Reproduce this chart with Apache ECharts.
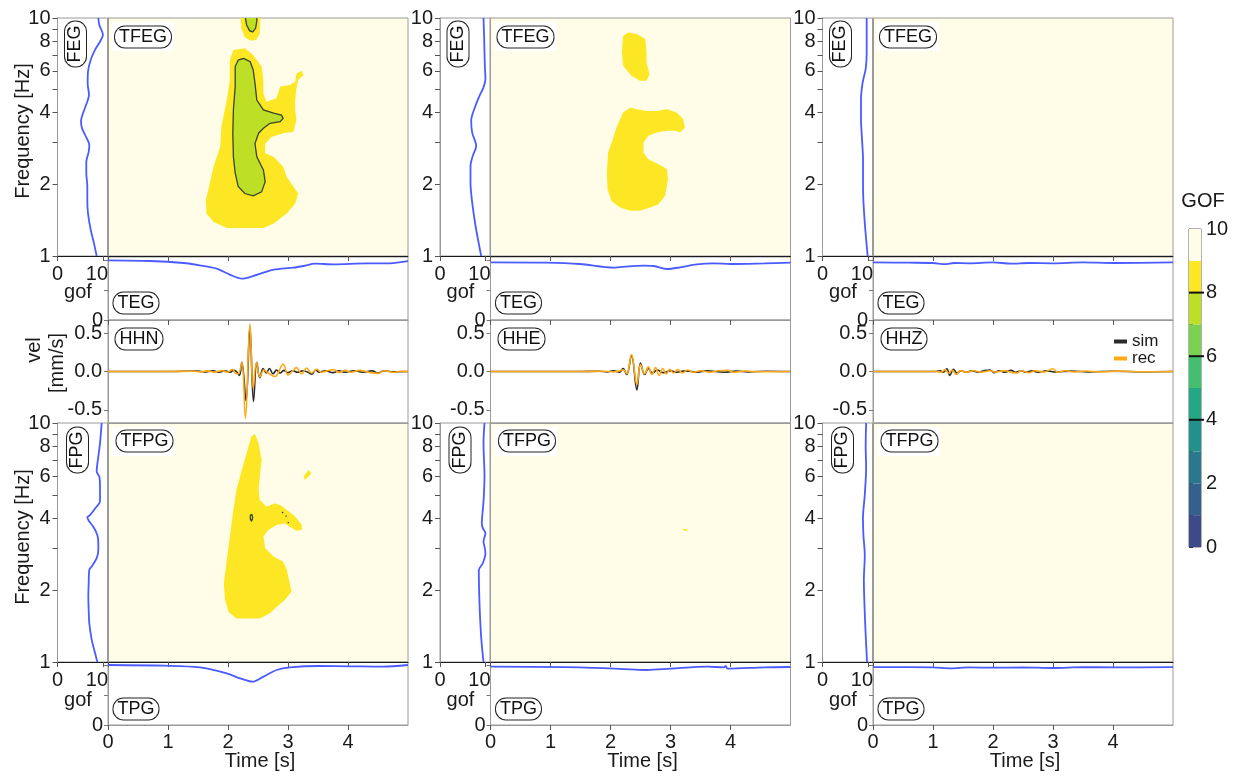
<!DOCTYPE html>
<html>
<head>
<meta charset="utf-8">
<script src="https://cdn.jsdelivr.net/npm/echarts@6/dist/echarts.min.js"></script>
<style>
  html, body { margin: 0; padding: 0; background: #ffffff; }
  #chart { width: 1234px; height: 776px; }
</style>
</head>
<body>
<div id="chart"></div>
<script>
// ---------- shared scales ----------
const components = ['HHN', 'HHE', 'HHZ'];
const freqLabelValues = [1, 2, 4, 6, 8, 10];
const freqTickValues = [1, 2, 3, 4, 5, 6, 7, 8, 9, 10];
const timeLabelValues = [0, 1, 2, 3, 4];
const velTickValues = [-0.5, 0, 0.5];
const gofStripTicks = [0, 5, 10];
const gofSideTicks = [0, 10];
// GOF classes 0-1 ... 9-10
const gofClassColors = ['#3e4989', '#34608d', '#2a788e', '#21918c', '#22a884',
                        '#44bf70', '#7ad151', '#bddf26', '#fde725', '#fffde7'];
const gofClasses = [0, 1, 2, 3, 4, 5, 6, 7, 8, 9];
const gofContourLevels = [4, 6, 8];

// ---------- frequency GOF curves: [frequency Hz, gof] ----------
const feg_HHN = [[1.0, 8.62], [1.13, 8.03], [1.29, 7.30], [1.51, 6.71], [1.72, 6.56], [1.96, 6.56], [2.23, 6.34], [2.49, 6.34], [2.74, 6.86], [2.93, 7.00], [3.17, 6.27], [3.44, 5.39], [3.70, 5.17], [3.98, 5.61], [4.38, 6.42], [4.75, 6.93], [5.31, 6.64], [5.95, 6.71], [6.66, 7.30], [7.34, 8.25], [7.95, 9.35], [8.48, 10.0], [9.35, 9.20], [10.0, 8.98]];
const fpg_HHN = [[1.0, 8.76], [1.12, 8.10], [1.24, 7.52], [1.45, 7.00], [1.65, 6.86], [1.88, 6.78], [2.13, 6.86], [2.43, 7.00], [2.51, 7.52], [2.72, 8.62], [2.94, 8.98], [3.14, 8.98], [3.40, 8.76], [3.68, 7.88], [3.87, 7.00], [4.03, 6.56], [4.12, 7.15], [4.47, 8.62], [4.69, 9.35], [5.42, 9.35], [5.96, 9.21], [6.26, 8.62], [7.23, 8.98], [8.22, 9.35], [10.0, 9.72]];
const feg_HHE = [[1.0, 9.06], [1.34, 7.81], [1.68, 7.08], [2.03, 6.71], [2.39, 6.71], [2.64, 7.22], [2.90, 7.96], [3.30, 7.08], [3.70, 6.86], [4.28, 7.81], [4.71, 8.69], [5.11, 9.57], [5.54, 10.0], [6.30, 9.86], [8.16, 9.72], [10.0, 9.57]];
const fpg_HHE = [[1.0, 9.57], [1.27, 9.06], [1.76, 8.69], [2.42, 8.54], [2.59, 9.42], [2.85, 10.0], [3.04, 9.79], [3.19, 9.57], [3.46, 10.0], [3.63, 9.42], [3.81, 9.20], [4.33, 9.42], [4.92, 9.64], [5.97, 9.79], [8.24, 9.57], [10.0, 9.79]];
const feg_HHZ = [[1.0, 9.94], [1.34, 9.35], [1.74, 8.98], [2.11, 8.91], [2.56, 8.91], [3.10, 8.69], [3.76, 8.47], [4.57, 8.47], [5.37, 8.84], [6.11, 9.50], [7.17, 9.72], [10.0, 9.72]];
const fpg_HHZ = [[1.0, 9.80], [1.3, 9.50], [1.7, 9.25], [2.2, 9.10], [2.8, 9.30], [3.4, 9.00], [4.0, 8.90], [5.0, 9.30], [6.5, 9.60], [8.0, 9.50], [10.0, 9.60]];

// ---------- time GOF curves: [time s, gof] ----------
const teg_HHN = [[0, 9.94], [0.7, 9.83], [1.26, 9.5], [1.53, 9.11], [1.81, 8.56], [2.03, 7.56], [2.23, 6.89], [2.37, 7.17], [2.59, 7.89], [2.76, 8.39], [3.09, 8.72], [3.26, 9.0], [3.45, 9.39], [3.76, 9.28], [4.31, 9.44], [4.64, 9.44], [5.0, 9.83]];
const tpg_HHN = [[0, 10.0], [0.94, 9.89], [1.53, 9.61], [1.98, 8.61], [2.2, 7.78], [2.41, 7.22], [2.59, 8.06], [2.81, 9.17], [3.03, 9.61], [3.53, 9.83], [4.03, 9.78], [4.59, 9.72], [5.0, 10.0]];
const teg_HHE = [[0, 9.61], [0.93, 9.56], [1.49, 9.33], [2.05, 8.72], [2.3, 8.95], [2.55, 9.06], [2.72, 9.0], [2.94, 8.5], [3.16, 8.78], [3.44, 9.28], [3.72, 9.44], [4.0, 9.33], [4.56, 9.44], [5.0, 9.56]];
const tpg_HHE = [[0, 9.72], [1.49, 9.61], [2.33, 9.28], [2.6, 9.17], [3.0, 9.39], [3.61, 9.72], [3.89, 9.61], [3.92, 9.83], [3.95, 9.39], [4.56, 9.61], [5.0, 9.67]];
const teg_HHZ = [[0, 9.6], [0.6, 9.55], [1.0, 9.5], [1.2, 9.3], [1.35, 9.5], [1.6, 9.45], [2.0, 9.6], [2.3, 9.4], [2.6, 9.5], [3.0, 9.45], [3.5, 9.6], [4.0, 9.5], [5.0, 9.6]];
const tpg_HHZ = [[0, 9.65], [1.0, 9.6], [1.3, 9.45], [1.6, 9.6], [2.0, 9.55], [2.5, 9.6], [3.0, 9.5], [3.5, 9.65], [4.0, 9.6], [5.0, 9.65]];

// ---------- velocity traces: [time s, mm/s] ----------
const velSim_HHN = [[0, 0], [1.0, 0], [1.5, 0.005], [1.6, -0.005], [1.75, 0.008], [1.85, -0.008], [1.95, 0.01], [2.03, -0.01], [2.09, 0.015], [2.14, 0.0], [2.19, -0.05], [2.23, 0.12], [2.30, -0.38], [2.365, 0.58], [2.425, -0.39], [2.48, 0.12], [2.53, -0.08], [2.585, 0.04], [2.64, -0.02], [2.69, 0.04], [2.75, -0.03], [2.81, 0.02], [2.87, -0.02], [2.93, 0.015], [3.0, -0.015], [3.08, 0.01], [3.16, -0.01], [3.25, 0.01], [3.33, -0.01], [3.40, -0.035], [3.46, 0.02], [3.52, -0.01], [3.62, 0.01], [3.75, -0.015], [3.85, 0.01], [3.95, -0.01], [4.1, 0.01], [4.25, -0.01], [4.4, 0.008], [4.5, -0.02], [4.6, 0.01], [4.75, -0.005], [5, 0]];
const velRec_HHN = [[0, 0], [1.0, 0], [1.4, 0.004], [1.55, -0.005], [1.65, 0.008], [1.78, -0.008], [1.9, 0.012], [2.0, -0.01], [2.07, 0.03], [2.12, -0.02], [2.17, -0.03], [2.23, 0.12], [2.29, -0.61], [2.365, 0.62], [2.42, -0.22], [2.475, 0.12], [2.53, -0.07], [2.6, 0.02], [2.67, -0.02], [2.78, -0.065], [2.92, 0.095], [3.0, -0.045], [3.07, 0.0], [3.14, 0.05], [3.23, -0.03], [3.31, 0.045], [3.39, -0.02], [3.48, 0.03], [3.56, -0.01], [3.66, 0.01], [3.76, 0.025], [3.85, -0.015], [3.95, 0.015], [4.05, -0.01], [4.2, 0.015], [4.35, -0.01], [4.5, -0.025], [4.6, 0.01], [4.75, -0.01], [4.9, 0.005], [5, 0]];
const velSim_HHE = [[0, 0], [1.5, 0], [1.8, 0.004], [1.95, -0.005], [2.05, 0.01], [2.15, -0.01], [2.21, 0.04], [2.27, -0.04], [2.35, 0.21], [2.44, -0.24], [2.50, 0.11], [2.57, -0.04], [2.63, 0.04], [2.70, -0.02], [2.78, 0.02], [2.88, -0.015], [3.0, 0.01], [3.1, -0.01], [3.25, 0.008], [3.45, -0.01], [3.6, 0.008], [3.9, -0.01], [4.1, 0.006], [4.3, -0.005], [4.6, 0.004], [5, 0]];
const velRec_HHE = [[0, 0], [1.5, 0], [1.9, 0.004], [2.05, -0.006], [2.15, 0.01], [2.22, 0.02], [2.27, -0.03], [2.35, 0.22], [2.44, -0.17], [2.50, 0.09], [2.57, -0.03], [2.63, 0.06], [2.69, -0.04], [2.75, 0.05], [2.81, -0.05], [2.87, 0.04], [2.93, -0.03], [2.99, 0.03], [3.05, -0.02], [3.12, 0.025], [3.2, -0.02], [3.28, 0.02], [3.38, -0.01], [3.5, 0.01], [3.65, -0.008], [3.8, 0.01], [3.95, 0.015], [4.05, -0.01], [4.25, 0.006], [4.5, -0.004], [5, 0]];
const velSim_HHZ = [[0, 0], [1.05, 0], [1.12, 0.01], [1.17, -0.01], [1.23, 0.035], [1.28, -0.05], [1.34, 0.03], [1.40, -0.02], [1.47, 0.01], [1.55, -0.008], [1.65, 0.008], [1.75, -0.01], [1.85, 0.01], [1.95, 0.02], [2.02, -0.015], [2.1, 0.01], [2.2, -0.01], [2.3, 0.015], [2.38, -0.012], [2.47, 0.01], [2.55, -0.01], [2.65, 0.008], [2.75, -0.008], [2.9, 0.008], [3.05, -0.006], [3.3, 0.005], [3.6, -0.005], [4.0, 0.004], [4.5, -0.003], [5, 0]];
const velRec_HHZ = [[0, 0], [1.05, 0], [1.14, -0.01], [1.20, 0.025], [1.26, -0.02], [1.32, 0.02], [1.39, -0.04], [1.45, 0.012], [1.55, -0.008], [1.68, 0.01], [1.8, -0.008], [1.95, 0.01], [2.05, -0.008], [2.2, 0.012], [2.32, -0.015], [2.40, -0.02], [2.47, 0.01], [2.6, -0.015], [2.7, 0.01], [2.85, -0.006], [3.0, 0.035], [3.08, -0.01], [3.2, 0.01], [3.35, -0.006], [3.55, 0.006], [3.8, -0.005], [4.1, 0.005], [4.5, -0.004], [5, 0]];

// ---------- time-frequency GOF regions: outlines [time s, frequency Hz] ----------
// HHN envelope: class 8-9 areas and class 7-8 cores
const tfegHHN_y1 = [[2.09, 7.34], [2.28, 7.46], [2.42, 6.99], [2.56, 6.25], [2.59, 5.49], [2.59, 4.83], [2.64, 4.45], [2.81, 4.60], [2.87, 5.15], [3.03, 5.23], [3.12, 5.40], [3.14, 5.85], [3.23, 6.01], [3.26, 5.76], [3.17, 5.49], [3.14, 5.06], [3.12, 4.52], [3.12, 4.11], [3.14, 3.73], [3.09, 3.33], [2.92, 3.28], [2.73, 3.17], [2.62, 2.97], [2.62, 2.70], [2.76, 2.61], [2.92, 2.37], [2.98, 2.15], [3.09, 1.96], [3.17, 1.83], [3.12, 1.66], [2.98, 1.51], [2.76, 1.37], [2.59, 1.31], [1.98, 1.31], [1.76, 1.39], [1.64, 1.51], [1.63, 1.72], [1.67, 1.89], [1.76, 2.37], [1.87, 2.88], [1.89, 3.49], [1.98, 4.52], [2.03, 5.49], [2.03, 6.66]];
const tfegHHN_y2 = [[2.21, 10], [2.22, 9.05], [2.28, 8.30], [2.38, 8.03], [2.47, 8.08], [2.53, 8.60], [2.54, 10]];
const tfegHHN_g1 = [[2.26, 6.77], [2.37, 6.55], [2.42, 6.05], [2.45, 5.31], [2.48, 4.52], [2.59, 4.11], [2.76, 3.98], [2.89, 3.91], [2.92, 3.79], [2.87, 3.67], [2.70, 3.61], [2.59, 3.44], [2.51, 3.28], [2.45, 2.97], [2.48, 2.61], [2.59, 2.30], [2.62, 2.05], [2.56, 1.86], [2.42, 1.79], [2.28, 1.83], [2.17, 1.96], [2.12, 2.23], [2.09, 2.61], [2.08, 3.28], [2.09, 4.11], [2.12, 5.15], [2.12, 6.25], [2.17, 6.66]];
const tfegHHN_g2 = [[2.29, 10], [2.31, 9.35], [2.36, 8.85], [2.41, 8.74], [2.46, 9.05], [2.48, 9.67], [2.48, 10]];
// HHN phase
const tfpgHHN_y1 = [[2.45, 8.99], [2.51, 8.22], [2.56, 7.00], [2.53, 5.96], [2.51, 5.24], [2.53, 4.76], [2.64, 4.47], [2.78, 4.61], [2.87, 4.54], [2.98, 4.33], [3.12, 4.06], [3.23, 3.74], [3.23, 3.57], [3.14, 3.54], [3.03, 3.68], [2.95, 3.80], [2.81, 3.74], [2.67, 3.57], [2.59, 3.35], [2.62, 2.99], [2.76, 2.76], [2.92, 2.63], [2.98, 2.43], [3.03, 2.13], [3.06, 1.97], [2.95, 1.82], [2.81, 1.70], [2.70, 1.60], [2.53, 1.52], [2.14, 1.52], [2.01, 1.62], [1.95, 1.82], [1.93, 2.13], [1.98, 2.67], [2.03, 3.35], [2.09, 4.33], [2.14, 5.24], [2.23, 6.36], [2.34, 7.96], [2.39, 8.77]];
const tfpgHHN_y2 = [[3.26, 5.96], [3.34, 6.36], [3.39, 6.16], [3.34, 5.96], [3.28, 5.77]];
const tfpgHHN_c1 = [[2.39, 4.16], [2.405, 4.10], [2.41, 4.03], [2.405, 3.95], [2.39, 3.90], [2.375, 3.95], [2.37, 4.03], [2.375, 4.10], [2.39, 4.16]];
const tfpgHHN_c2 = [[2.90, 4.24], [2.92, 4.20]];
const tfpgHHN_c3 = [[2.96, 4.09], [2.975, 4.06]];
const tfpgHHN_c4 = [[3.00, 3.85], [3.01, 3.81]];
// HHE envelope and phase
const tfegHHE_y1 = [[2.21, 8.43], [2.30, 8.70], [2.44, 8.56], [2.58, 8.16], [2.60, 7.17], [2.60, 6.51], [2.65, 5.81], [2.60, 5.45], [2.49, 5.45], [2.35, 5.72], [2.21, 6.30], [2.19, 7.17]];
const tfegHHE_y2 = [[2.33, 4.21], [2.44, 4.14], [2.60, 4.07], [2.77, 4.07], [2.94, 4.14], [3.10, 4.01], [3.21, 3.76], [3.24, 3.47], [3.16, 3.30], [3.08, 3.36], [2.94, 3.36], [2.77, 3.30], [2.63, 3.20], [2.55, 3.00], [2.55, 2.72], [2.63, 2.55], [2.80, 2.43], [2.94, 2.32], [2.96, 2.10], [2.91, 1.79], [2.80, 1.65], [2.66, 1.60], [2.49, 1.55], [2.33, 1.55], [2.16, 1.60], [2.02, 1.70], [1.95, 1.91], [1.94, 2.24], [1.96, 2.72], [2.02, 3.00], [2.10, 3.47], [2.21, 4.01]];
const tfpgHHE_y1 = [[3.20, 3.62], [3.23, 3.60], [3.28, 3.58], [3.29, 3.55], [3.25, 3.53], [3.21, 3.56]];

// ---------- styling ----------
const FONT = '"Liberation Sans", Arial, Helvetica, sans-serif';
const INK = '#1a1a1a';
const FRAME = '#9a9a9a';
const BLUE = '#4a5bff';
const SIM_COLOR = '#2b2b2b';
const REC_COLOR = '#ffaa14';
const CONTOUR = '#39442c';
const CREAM = gofClassColors[9];

const MAIN_LEFT = [108, 490.5, 873];
const MAIN_W = 300;
const SIDE_W = 50;

const fill = (level, pts) => ({ level, pts });
const contour = (pts) => ({ level: null, pts });
const ring = (pts) => pts.concat([pts[0]]);

const tfeRegions = {
  HHN: [fill(8, tfegHHN_y1), fill(8, tfegHHN_y2), fill(7, tfegHHN_g1), fill(7, tfegHHN_g2),
        contour(ring(tfegHHN_g1)), contour(tfegHHN_g2)],
  HHE: [fill(8, tfegHHE_y1), fill(8, tfegHHE_y2)],
  HHZ: []
};
const tfpRegions = {
  HHN: [fill(8, tfpgHHN_y1), fill(8, tfpgHHN_y2), contour(tfpgHHN_c1), contour(tfpgHHN_c2),
        contour(tfpgHHN_c3), contour(tfpgHHN_c4)],
  HHE: [fill(8, tfpgHHE_y1)],
  HHZ: []
};
const sideCurves = { HHN: [feg_HHN, fpg_HHN], HHE: [feg_HHE, fpg_HHE], HHZ: [feg_HHZ, fpg_HHZ] };
const stripCurves = { HHN: [teg_HHN, tpg_HHN], HHE: [teg_HHE, tpg_HHE], HHZ: [teg_HHZ, tpg_HHZ] };
const traces = { HHN: [velSim_HHN, velRec_HHN], HHE: [velSim_HHE, velRec_HHE], HHZ: [velSim_HHZ, velRec_HHZ] };

// ---------- builders ----------
const grid = [], xAxis = [], yAxis = [], series = [];

function addPanel(rect, xa, ya, bg) {
  grid.push({ left: rect[0], top: rect[1], width: rect[2], height: rect[3], show: true,
              backgroundColor: bg || 'transparent', borderColor: FRAME, borderWidth: 1 });
  const i = grid.length - 1;
  xAxis.push(Object.assign({ gridIndex: i }, xa));
  yAxis.push(Object.assign({ gridIndex: i }, ya));
  return i;
}

const labelStyle = { fontSize: 20, color: INK, fontFamily: FONT };

function timeAxis(lineColor, ticks, labels) {
  return {
    type: 'value', min: 0, max: 5, interval: 1,
    splitLine: { show: false },
    axisLine: { show: true, onZero: false, lineStyle: { color: lineColor, width: 1 } },
    axisTick: { show: ticks, length: 5, customValues: timeLabelValues, lineStyle: { color: '#555' } },
    axisLabel: Object.assign({ show: labels, margin: 7, customValues: timeLabelValues }, labelStyle)
  };
}
function freqAxis(labels) {
  return {
    type: 'value', min: 0, max: 1,
    splitLine: { show: false },
    axisLine: { show: true, onZero: false, lineStyle: { color: FRAME } },
    axisTick: { show: labels, length: 5, customValues: freqTickValues.map(Math.log10), lineStyle: { color: '#555' } },
    axisLabel: Object.assign({ show: labels, margin: 7, customValues: freqLabelValues.map(Math.log10),
      formatter: v => String(Math.round(Math.pow(10, v))) }, labelStyle)
  };
}
function sideGofAxis() {
  return {
    type: 'value', min: 0, max: 11,
    splitLine: { show: false },
    axisLine: { show: true, onZero: false, lineStyle: { color: INK } },
    axisTick: { show: true, length: 5, customValues: gofSideTicks, lineStyle: { color: '#555' } },
    axisLabel: { show: true, margin: 8, customValues: gofSideTicks,
      formatter: v => v === 10 ? '{s|10}' : '{n|0}',
      rich: { s: Object.assign({ padding: [0, 12, 0, 0] }, labelStyle), n: Object.assign({}, labelStyle) } }
  };
}
function stripGofAxis() {
  return {
    type: 'value', min: 0, max: 10.5,
    splitLine: { show: false },
    axisLine: { show: true, onZero: false, lineStyle: { color: FRAME } },
    axisTick: { show: true, length: 4, customValues: gofStripTicks, lineStyle: { color: '#777' } },
    axisLabel: Object.assign({ show: true, margin: 5, customValues: [0], formatter: v => String(v) }, labelStyle)
  };
}
function velAxis() {
  return {
    type: 'value', min: -0.67, max: 0.67,
    splitLine: { show: false },
    axisLine: { show: true, onZero: false, lineStyle: { color: FRAME } },
    axisTick: { show: true, length: 4, customValues: velTickValues, lineStyle: { color: '#777' } },
    axisLabel: Object.assign({ show: true, margin: 6, customValues: velTickValues, formatter: v => v.toFixed(1) }, labelStyle)
  };
}

function lineSeries(i, data, color, width, smooth, name) {
  return { type: 'line', name: name, xAxisIndex: i, yAxisIndex: i, data: data, symbol: 'none',
           smooth: smooth, color: color, lineStyle: { color: color, width: width }, silent: true, clip: true, z: 3 };
}

function regionSeries(i, regions) {
  return {
    type: 'custom', xAxisIndex: i, yAxisIndex: i, clip: true, silent: true, z: 2,
    data: regions.map((r, k) => [k]),
    renderItem: (params, api) => {
      const r = regions[params.dataIndex];
      const pts = r.pts.map(p => api.coord([p[0], Math.log10(p[1])]));
      if (r.level !== null) {
        return { type: 'polygon', shape: { points: pts }, style: { fill: gofClassColors[r.level], stroke: null } };
      }
      return { type: 'polyline', shape: { points: pts }, style: { fill: null, stroke: CONTOUR, lineWidth: 1.3 } };
    }
  };
}

// ---------- panels ----------
components.forEach((comp, c) => {
  const L = MAIN_LEFT[c];
  const S = L - SIDE_W - 0.5;
  const [fe, fp] = sideCurves[comp];
  const [te, tp] = stripCurves[comp];
  const [sim, rec] = traces[comp];

  // frequency GOF (envelope)
  let i = addPanel([S, 18, SIDE_W, 238], sideGofAxis(), freqAxis(true));
  series.push(lineSeries(i, fe.map(p => [p[1], Math.log10(p[0])]), BLUE, 1.8, 0.3));
  // time-frequency GOF (envelope)
  i = addPanel([L, 18, MAIN_W, 238], timeAxis(INK, true, false), freqAxis(false), CREAM);
  series.push(regionSeries(i, tfeRegions[comp]));
  // time GOF (envelope)
  i = addPanel([L, 257, MAIN_W, 63], timeAxis(FRAME, true, false), stripGofAxis());
  series.push(lineSeries(i, te, BLUE, 1.8, 0.3));
  // velocity traces
  i = addPanel([L, 320, MAIN_W, 103], timeAxis(FRAME, false, false), velAxis());
  series.push(lineSeries(i, sim, SIM_COLOR, 1.6, 0.4, 'sim'));
  series.push(lineSeries(i, rec, REC_COLOR, 1.6, 0.4, 'rec'));
  // frequency GOF (phase)
  i = addPanel([S, 423, SIDE_W, 239], sideGofAxis(), freqAxis(true));
  series.push(lineSeries(i, fp.map(p => [p[1], Math.log10(p[0])]), BLUE, 1.8, 0.3));
  // time-frequency GOF (phase)
  i = addPanel([L, 423, MAIN_W, 239], timeAxis(INK, true, false), freqAxis(false), CREAM);
  series.push(regionSeries(i, tfpRegions[comp]));
  // time GOF (phase)
  i = addPanel([L, 662, MAIN_W, 63], timeAxis(FRAME, true, true), stripGofAxis());
  series.push(lineSeries(i, tp, BLUE, 1.8, 0.3));
});

// ---------- colour bar ----------
const cb = addPanel([1189, 229, 12, 318],
  { type: 'value', min: 0, max: 1, show: false },
  { type: 'value', min: 0, max: 10, interval: 1, position: 'right',
    splitLine: { show: false },
    axisLine: { show: true, lineStyle: { color: '#555' } },
    axisTick: { show: true, length: 4, lineStyle: { color: '#333' } },
    axisLabel: Object.assign({ margin: 5, formatter: v => (v % 2 === 0 ? String(v) : '') }, labelStyle) });
grid[cb].borderColor = '#666';
series.push({
  type: 'custom', xAxisIndex: cb, yAxisIndex: cb, silent: true, z: 2,
  data: gofClasses.map(k => [k]),
  renderItem: (params, api) => {
    const k = gofClasses[params.dataIndex];
    const a = api.coord([0, k + 1]);
    const b = api.coord([1, k]);
    return { type: 'rect', shape: { x: a[0], y: a[1], width: b[0] - a[0], height: b[1] - a[1] },
             style: { fill: gofClassColors[k], stroke: null } };
  }
});
series.push({
  type: 'custom', xAxisIndex: cb, yAxisIndex: cb, silent: true, clip: false, z: 4,
  data: gofContourLevels.map(l => [l]),
  renderItem: (params, api) => {
    const l = gofContourLevels[params.dataIndex];
    const a = api.coord([0, l]);
    const b = api.coord([1, l]);
    return { type: 'line', shape: { x1: a[0], y1: a[1], x2: b[0] + 3, y2: b[1] },
             style: { stroke: '#111', lineWidth: 2 } };
  }
});

// ---------- text annotations ----------
const graphics = [];
function boxText(text, x, y, rotated) {
  graphics.push({ type: 'text', x: x, y: y, rotation: rotated ? Math.PI / 2 : 0, z: 100,
    style: { text: text, fontSize: 18, fontFamily: FONT, fill: '#111', align: 'center', verticalAlign: 'middle',
             backgroundColor: '#ffffff', borderColor: '#222', borderWidth: 1, borderRadius: 10,
             padding: [2, 4, 1, 4] } });
}
function plainText(text, x, y, rotated, size) {
  graphics.push({ type: 'text', x: x, y: y, rotation: rotated ? Math.PI / 2 : 0, z: 100,
    style: { text: text, fontSize: size || 20, fontFamily: FONT, fill: INK, align: 'center', verticalAlign: 'middle' } });
}
function whiteRect(x, y, w, h) {
  graphics.push({ type: 'rect', shape: { x: x, y: y, width: w, height: h }, style: { fill: '#ffffff' }, z: 99 });
}

components.forEach((comp, c) => {
  const L = MAIN_LEFT[c];
  const S = L - SIDE_W - 0.5;
  whiteRect(L + 4, 22, 62, 29);
  boxText('TFEG', L + 35, 37);
  boxText('FEG', S + 18, 44, true);
  boxText('TEG', L + 28, 303);
  boxText(comp, L + 31, 339);
  whiteRect(L + 4, 427, 63, 29);
  boxText('TFPG', L + 36.5, 441);
  boxText('FPG', S + 20, 450, true);
  boxText('TPG', L + 28, 709);
  plainText('gof', S + 20.5, 292);
  plainText('gof', S + 20.5, 700);
  plainText('Time [s]', L + 152, 761);
});
plainText('Frequency [Hz]', 23, 131, true);
plainText('Frequency [Hz]', 23, 537, true);
plainText('vel', 34, 350, true);
plainText('[mm/s]', 57, 363, true);
plainText('GOF', 1203, 201);

const chart = echarts.init(document.getElementById('chart'), null, { renderer: 'canvas' });
chart.setOption({
  animation: false,
  backgroundColor: '#ffffff',
  textStyle: { fontFamily: FONT },
  grid: grid,
  xAxis: xAxis,
  yAxis: yAxis,
  legend: {
    data: [{ name: 'sim', icon: 'rect' }, { name: 'rec', icon: 'rect' }],
    orient: 'vertical', left: 1114, top: 333, itemWidth: 13, itemHeight: 4, itemGap: 0, padding: 0,
    selectedMode: false,
    textStyle: { fontSize: 17, color: INK, fontFamily: FONT, lineHeight: 15 }
  },
  graphic: { elements: graphics },
  series: series
});
</script>
</body>
</html>
